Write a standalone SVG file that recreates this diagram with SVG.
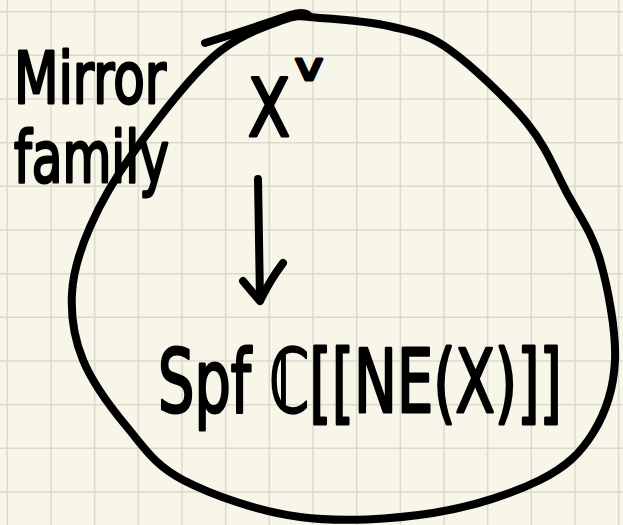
<svg xmlns="http://www.w3.org/2000/svg" width="623" height="525" viewBox="0 0 623 525">
  <style>
    .paper { fill: #f7f6e9; }
    .grid { fill: none; stroke: #dbdacd; stroke-width: 1.5; }
    .pen { fill: none; stroke: #000; stroke-width: 8; stroke-linecap: round; stroke-linejoin: round; }
    .hand { font-family: "DejaVu Sans", "Noto Sans", sans-serif; fill: #000; stroke: #000; stroke-width: 3; stroke-linejoin: round; }
  </style>

  <!-- squared paper -->
  <rect class="paper" x="0" y="0" width="623" height="525"/>
  <path class="grid" d="M7.3,0V525 M51,0V525 M94.7,0V525 M138.3,0V525 M182,0V525 M225.7,0V525 M269.3,0V525 M313,0V525 M356.7,0V525 M400.3,0V525 M444,0V525 M487.7,0V525 M531.3,0V525 M575,0V525 M618.7,0V525
                        M0,11.7H623 M0,55.3H623 M0,99H623 M0,142.7H623 M0,186.3H623 M0,230H623 M0,273.7H623 M0,317.3H623 M0,361H623 M0,404.7H623 M0,448.3H623 M0,492H623"/>

  <!-- hand-drawn loop enclosing the family -->
  <g id="family-loop">
    <path class="pen" d="M320,18 C338.3,19.2 371.3,21.7 393,27 C414.7,32.3 427.7,34 450,50 C472.3,66 507.5,99.2 527,123 C546.5,146.8 554.8,170.2 567,193 C579.2,215.8 592,232.2 600,260 C608,287.8 616.2,331.2 615,360 C613.8,388.8 605.5,413 593,433 C580.5,453 566.7,466.7 540,480 C513.3,493.3 473,506.8 433,513 C393,519.2 341.7,522.5 300,517 C258.3,511.5 211.8,495 183,480 C154.2,465 143.7,447 127,427 C110.3,407 92.2,382.3 83,360 C73.8,337.7 70.8,315.2 72,293 C73.2,270.8 79.8,250.3 90,227 C100.2,203.7 112.5,181.3 133,153 C153.5,124.7 188,79.2 213,57 C238,34.8 265.2,26.5 283,20 C300.8,13.5 301.7,16.8 320,18 Z"/>
    <path class="pen" d="M205,43 Q250,29 290,15 Q306,10 310,17"/>
  </g>

  <!-- side label -->
  <g id="label-mirror-family">
    <text class="hand" x="14" y="103" font-size="72" textLength="152" lengthAdjust="spacingAndGlyphs">Mirror</text>
    <text class="hand" x="14" y="182" font-size="72" textLength="155" lengthAdjust="spacingAndGlyphs">family</text>
  </g>

  <!-- total space with dual superscript -->
  <g id="node-xv">
    <text class="hand" x="248" y="136" font-size="80"><tspan textLength="42" lengthAdjust="spacingAndGlyphs">X</tspan><tspan x="295" y="80" font-size="38" textLength="28" lengthAdjust="spacingAndGlyphs">v</tspan></text>
  </g>

  <!-- base -->
  <g id="node-spf">
    <text class="hand" x="158" y="412" font-size="88" textLength="404" lengthAdjust="spacingAndGlyphs">Spf ℂ[[NE(X)]]</text>
  </g>

  <!-- projection arrow -->
  <g id="connectors">
    <path class="pen" d="M258,179 Q259,240 260,300"/>
    <path class="pen" d="M243,281 Q252,292 260,301 Q270,280 283,263"/>
  </g>
</svg>
